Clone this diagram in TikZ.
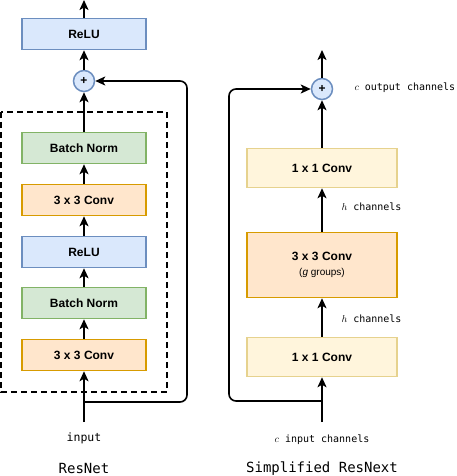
\documentclass[tikz,border=0pt]{standalone}
\usepackage{fontspec}
\setmainfont{Liberation Sans}
\setmonofont{DejaVu Sans Mono}
\usetikzlibrary{arrows.meta}
\definecolor{blufill}{HTML}{DAE8FC}
\definecolor{bluline}{HTML}{6C8EBF}
\definecolor{grnfill}{HTML}{D5E8D4}
\definecolor{grnline}{HTML}{82B366}
\definecolor{orgfill}{HTML}{FFE6CC}
\definecolor{orgline}{HTML}{D79B00}
\definecolor{ylwfill}{HTML}{FFF5DC}
\definecolor{ylwline}{HTML}{E6D28E}
\tikzset{
  layer/.style={draw, line width=1.5pt, minimum width=124pt, minimum height=31pt,
    font=\fontsize{12}{14}\selectfont\bfseries, align=center},
  relu/.style={layer, fill=blufill, draw=bluline},
  bnorm/.style={layer, fill=grnfill, draw=grnline},
  conv/.style={layer, fill=orgfill, draw=orgline},
  pconv/.style={layer, fill=ylwfill, draw=ylwline, minimum width=150pt, minimum height=39pt},
  plus/.style={circle, draw=bluline, fill=blufill, line width=1.5pt, minimum size=21pt,
    inner sep=0pt, font=\bfseries\fontsize{12}{12}\selectfont},
  edge/.style={line width=1.6pt, -{Stealth[length=10pt,width=9pt,inset=2.5pt]}},
  monotxt/.style={font=\ttfamily\fontsize{10}{12}\selectfont},
  caption/.style={font=\ttfamily\fontsize{14}{16}\selectfont}
}
\begin{document}
\begin{tikzpicture}[x=1pt,y=-1pt]
    \useasboundingbox (0,0) rectangle (456,476);
    % ResNet block
    \node[relu] (relutop) at (84,34) {ReLU};
    \node[plus] (plusL) at (84,81) {+};
    \draw[line width=1.5pt, dash pattern=on 6pt off 4pt] (1,112) rectangle (167,392);
    \node[bnorm] (bnB) at (84,148) {Batch Norm};
    \node[conv] (convB) at (84,200) {3 x 3 Conv};
    \node[relu] (reluA) at (84,252) {ReLU};
    \node[bnorm] (bnA) at (84,303) {Batch Norm};
    \node[conv] (convA) at (84,355) {3 x 3 Conv};
    \node[monotxt, font=\ttfamily\fontsize{11.5}{13}\selectfont] (inL) at (84,438) {input};
    \node[caption] (capL) at (84,468) {ResNet};
    \coordinate (startL) at (84,422);
    \coordinate (splitL) at (84,402);
    \coordinate (turnL) at (187,402);
    \coordinate (outL) at (84,0);
    \draw[edge] (startL) -- (convA);
    \draw[edge] (convA) -- (bnA);
    \draw[edge] (bnA) -- (reluA);
    \draw[edge] (reluA) -- (convB);
    \draw[edge] (convB) -- (bnB);
    \draw[edge] (bnB) -- (plusL);
    \draw[edge] (plusL) -- (relutop);
    \draw[edge] (relutop) -- (outL);
    \draw[edge, rounded corners=7pt] (splitL) -- (turnL) |- (plusL);
    % Simplified ResNext block
    \node[plus] (plusR) at (322,89) {+};
    \node[pconv] (topconv) at (322,168) {1 x 1 Conv};
    \node[conv, minimum width=150pt, minimum height=65pt] (grpconv) at (322,265)
      {3 x 3 Conv\\[1pt]{\normalfont\fontsize{10}{12}\selectfont(\textit{g} groups)}};
    \node[pconv] (botconv) at (322,357) {1 x 1 Conv};
    \node[monotxt, anchor=west] (outch) at (351,88) {$c$ output channels};
    \node[monotxt, anchor=west] (hchB) at (338,207) {$h$ channels};
    \node[monotxt, anchor=west] (hchA) at (338,319) {$h$ channels};
    \node[monotxt] (inR) at (322,440) {$c$ input channels};
    \node[caption] (capR) at (322,469) {Simplified ResNext};
    \coordinate (startR) at (322,422);
    \coordinate (splitR) at (322,401);
    \coordinate (turnR) at (229,401);
    \coordinate (outR) at (322,50);
    \draw[edge] (startR) -- (botconv);
    \draw[edge] (botconv) -- (grpconv);
    \draw[edge] (grpconv) -- (topconv);
    \draw[edge] (topconv) -- (plusR);
    \draw[edge] (plusR) -- (outR);
    \draw[edge, rounded corners=7pt] (splitR) -- (turnR) |- (plusR);
\end{tikzpicture}
\end{document}
